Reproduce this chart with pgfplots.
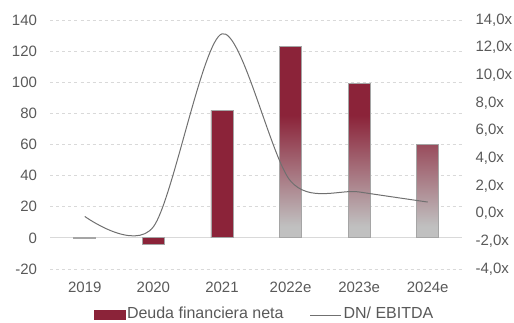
\documentclass[border=0pt]{standalone}
\usepackage{pgfplots}
\pgfplotsset{compat=1.18}
\usepackage{fontspec}
\setmainfont{Liberation Sans}
\definecolor{barred}{RGB}{139,35,57}
\definecolor{bargray}{RGB}{192,192,192}
\definecolor{edgegray}{RGB}{165,165,165}
\definecolor{txt}{RGB}{89,89,89}
\definecolor{gridc}{RGB}{217,217,217}
\definecolor{linegray}{RGB}{112,112,112}
\pgfdeclareverticalshading{barshade}{100bp}{color(0bp)=(bargray); color(28bp)=(bargray); color(57bp)=(barred); color(100bp)=(barred)}
\begin{document}
\begin{tikzpicture}[x=1pt,y=1pt]
\useasboundingbox (0,0) rectangle (514,322);
\clip (0,0) rectangle (514,322);
\begin{axis}[
  at={(50.5pt,53pt)}, anchor=south west,
  scale only axis, width=411.5pt, height=249pt,
  xmin=-0.5, xmax=5.5, ymin=-20, ymax=140,
  xtick={0,...,5}, xticklabels={2019,2020,2021,2022e,2023e,2024e},
  ytick={-20,20,40,60,80,100,120,140},
  yticklabels={-20,20,40,60,80,100,120,140},
  extra y ticks={0}, extra y tick labels={0},
  extra y tick style={grid style={solid, gridc, line width=0.8pt}},
  ymajorgrids, grid style={dashed, gridc, line width=0.8pt},
  axis line style={draw=none}, tick style={draw=none},
  major tick length=0pt,
  tick label style={font=\fontsize{15}{18}\selectfont, text=txt},
  xticklabel style={yshift=-9.3pt},
  yticklabel style={xshift=-10pt},
  clip=false,
]
\addplot[ybar, bar shift=0pt, bar width=22pt, fill=bargray, draw=edgegray, line width=0.8pt] coordinates {(0,-0.5)};
\addplot[ybar, bar shift=0pt, bar width=22pt, fill=barred, draw=edgegray, line width=0.8pt] coordinates {(1,-4) (2,82)};
\addplot[ybar, bar shift=0pt, bar width=22pt, shade, shading=barshade, draw=edgegray, line width=0.8pt] coordinates {(3,123) (4,99) (5,60)};
\end{axis}
\begin{axis}[
  at={(50.5pt,53pt)}, anchor=south west,
  scale only axis, width=411.5pt, height=249pt,
  xmin=-0.5, xmax=5.5, ymin=-4, ymax=14,
  axis y line*=right, hide x axis,
  ytick={-4,-2,...,14},
  yticklabels={{-4,0x},{-2,0x},{0,0x},{2,0x},{4,0x},{6,0x},{8,0x},{10,0x},{12,0x},{14,0x}},
  axis line style={draw=none}, tick style={draw=none},
  major tick length=0pt,
  tick label style={font=\fontsize{15}{18}\selectfont, text=txt},
  yticklabel style={anchor=west, xshift=10pt},
  clip=false,
  legend style={at={(0.52,-0.145)}, anchor=north, draw=none, fill=none,
    legend columns=2, font=\fontsize{16}{18}\selectfont, text=txt,
    /tikz/every even column/.append style={column sep=24pt},
    inner sep=0pt, outer sep=0pt},
  legend cell align=left,
]
\addlegendimage{legend image code/.code={\fill[barred] (0pt,-6pt) rectangle (31pt,3pt);}}
\addlegendentry{Deuda financiera neta}
\addplot[smooth, tension=0.5, linegray, line width=1pt, legend image code/.code={\draw[linegray, line width=1pt] (0pt,-2pt) -- (31pt,-2pt);}] coordinates {(0,-0.2) (1,-0.95) (2,13.0) (3,2.36) (4,1.57) (5,0.84)};
\addlegendentry{DN/ EBITDA}
\end{axis}
\end{tikzpicture}
\end{document}
